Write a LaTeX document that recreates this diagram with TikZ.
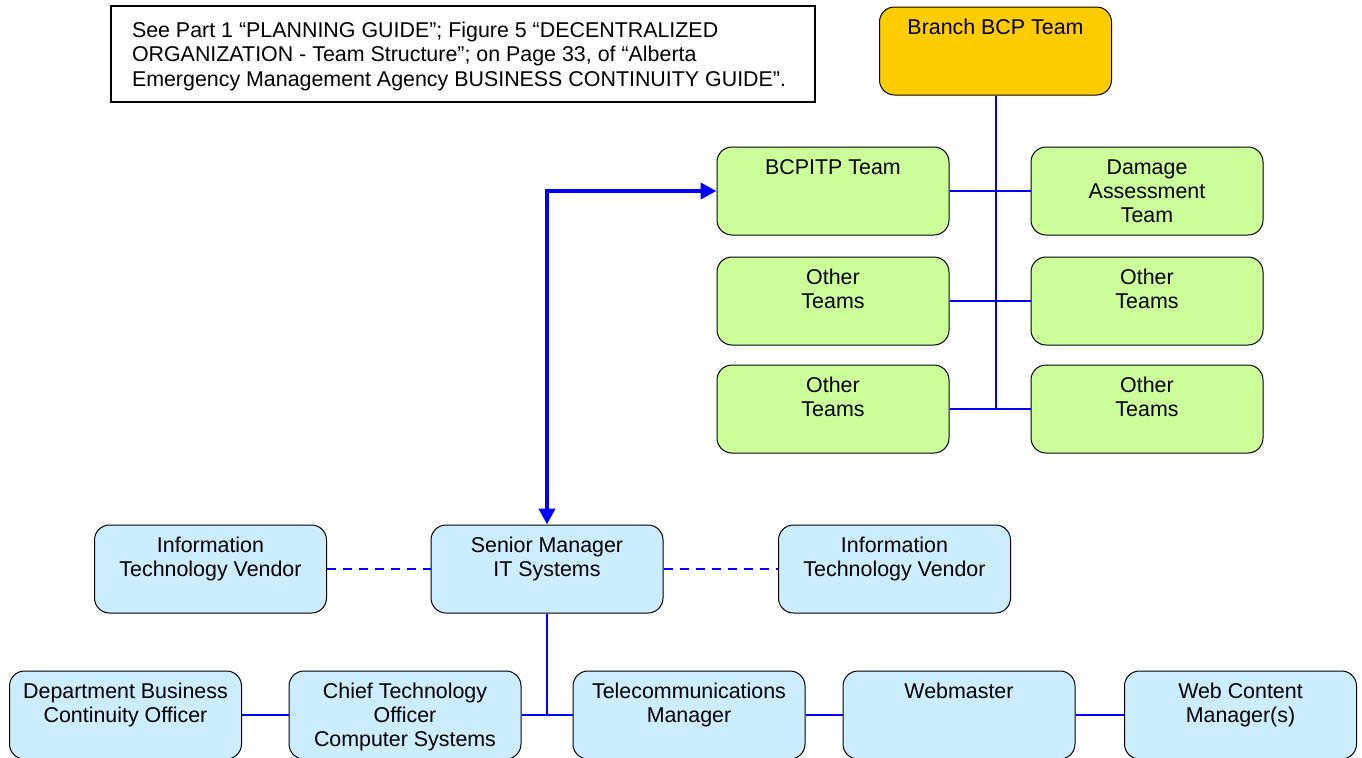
\documentclass[tikz,border=0pt]{standalone}
\usepackage{fontspec}
\setmainfont{Liberation Sans}
\usetikzlibrary{arrows.meta}
\definecolor{orangebox}{HTML}{FFCC00}
\definecolor{greenbox}{HTML}{CCFF99}
\definecolor{bluebox}{HTML}{CCECFF}
\definecolor{linkblue}{HTML}{0000FF}
\newcommand\boxtxt[1]{\parbox[c][44pt][t]{116pt}{\centering\rule{0pt}{13.5pt}#1\par}}
\tikzset{
  box/.style={draw=black, line width=0.5pt, rounded corners=7.5pt, inner sep=0pt,
    minimum width=116pt, minimum height=44pt, font=\fontsize{10.7}{12}\selectfont},
  orangenode/.style={box, fill=orangebox},
  greennode/.style={box, fill=greenbox},
  bluenode/.style={box, fill=bluebox},
  notebox/.style={draw=black, line width=1pt, inner sep=0pt, fill=white,
    minimum width=352pt, minimum height=48pt, font=\fontsize{10.7}{12.25}\selectfont},
  link/.style={draw=linkblue, line width=1pt},
  dashlink/.style={draw=linkblue, line width=1pt, dash pattern=on 4.5pt off 3.5pt},
  biglink/.style={draw=linkblue, line width=2.25pt,
    {Triangle[length=8pt,width=8pt]}-{Triangle[length=8pt,width=8pt]}},
}
\begin{document}
\begin{tikzpicture}[x=0.5pt, y=-0.5pt]
\useasboundingbox (0,0) rectangle (1362,757);
\begin{scope}
\clip (0,0) rectangle (1362,757);
% note
\node[notebox] (note) at (463,54) {\parbox[c][48pt][t]{331pt}{\raggedright\rule{0pt}{15.5pt}See Part 1 “PLANNING GUIDE”; Figure 5 “DECENTRALIZED\\ORGANIZATION - Team Structure”; on Page 33, of “Alberta\\Emergency Management Agency BUSINESS CONTINUITY GUIDE”.\par}};
% top teams
\node[orangenode] (branch) at (995.5,51) {\boxtxt{Branch BCP Team}};
\node[greennode] (bcpitp) at (833,191) {\boxtxt{BCPITP Team}};
\node[greennode] (dmg) at (1147,191) {\boxtxt{Damage\\Assessment\\Team}};
\node[greennode] (ot1) at (833,301) {\boxtxt{Other\\Teams}};
\node[greennode] (ot2) at (1147,301) {\boxtxt{Other\\Teams}};
\node[greennode] (ot3) at (833,409) {\boxtxt{Other\\Teams}};
\node[greennode] (ot4) at (1147,409) {\boxtxt{Other\\Teams}};
% IT
\node[bluenode] (sm) at (547,569) {\boxtxt{Senior Manager\\IT Systems}};
\node[bluenode] (iv1) at (210.5,569) {\boxtxt{Information\\Technology Vendor}};
\node[bluenode] (iv2) at (894.5,569) {\boxtxt{Information\\Technology Vendor}};
\node[bluenode] (dbco) at (125.5,715) {\boxtxt{Department Business\\Continuity Officer}};
\node[bluenode] (cto) at (405,715) {\boxtxt{Chief Technology\\Officer\\Computer Systems}};
\node[bluenode] (tel) at (689,715) {\boxtxt{Telecommunications\\Manager}};
\node[bluenode] (web) at (959,715) {\boxtxt{Webmaster}};
\node[bluenode] (wcm) at (1240.5,715) {\boxtxt{Web Content\\Manager(s)}};
% connectors
\coordinate (trunkend) at (995.5,409);
\coordinate (itjoin) at (547,714);
\draw[link] (branch.south) -- (trunkend);
\draw[link] (bcpitp.east) -- (dmg.west);
\draw[link] (ot1.east) -- (ot2.west);
\draw[link] (ot3.east) -- (ot4.west);
\draw[biglink] (sm.north) |- (bcpitp.west);
\draw[dashlink] (iv1.east) -- (sm.west);
\draw[dashlink] (sm.east) -- (iv2.west);
\draw[link] (sm.south) -- (itjoin);
\draw[link] (dbco.east) -- (cto.west);
\draw[link] (cto.east) -- (tel.west);
\draw[link] (tel.east) -- (web.west);
\draw[link] (web.east) -- (wcm.west);
\end{scope}
\end{tikzpicture}
\end{document}
